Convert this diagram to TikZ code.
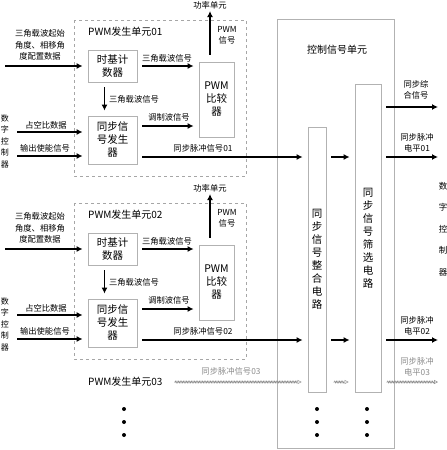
\documentclass[tikz,border=0pt]{standalone}
\usepackage{fontspec}
\setmainfont{Noto Sans CJK SC}
\usetikzlibrary{arrows.meta, calc, decorations.pathmorphing}

\begin{document}
\begin{tikzpicture}[x=1pt, y=-1pt,
    blk/.style={rectangle, draw=black!30, line width=0.8pt, fill=white, inner sep=0pt,
                align=center, font=\fontsize{10.5}{13}\selectfont},
    lbl/.style={align=center, inner sep=0pt, font=\fontsize{8.3}{11.2}\selectfont},
    ttl/.style={anchor=west, inner sep=0pt, font=\fontsize{10}{12}\selectfont},
    unitbox/.style={draw=black!35, dashed, line width=0.7pt},
    arr/.style={-{Latex[length=6pt,width=6pt]}, line width=1.6pt, shorten <=5pt, shorten >=5pt},
    ghost/.style={draw=black!45, line width=0.5pt, -{Triangle[open,length=4pt,width=4pt]},
                  decorate, decoration={zigzag, amplitude=1pt, segment length=1.6pt, pre length=1pt, post length=4pt}}
]
    \useasboundingbox (0,0) rectangle (447,450);

    % Control signal unit
    \node[blk, minimum width=117pt, minimum height=429pt] (ctl) at (335.5,233.5) {};
    \node[ttl, anchor=center] (ctlt) at (337,50) {控制信号单元};
    \node[blk, minimum width=18pt, minimum height=265pt] (intg) at (317,259.5) {同\\步\\信\\号\\整\\合\\电\\路};
    \node[blk, minimum width=26pt, minimum height=308pt] (filt) at (368,238) {同\\步\\信\\号\\筛\\选\\电\\路};
    \coordinate (rgt) at (443,0);
    \coordinate (sy) at (381,107);
    \draw[arr] (sy) -- (sy -| rgt);
    \node[lbl] (syl) at (416,90) {同步综\\合信号};
    \node[lbl, font=\fontsize{8.5}{21.5}\selectfont] (dcr) at (443,229) {数\\字\\控\\制\\器};

    % PWM units 01 and 02
    \foreach \u/\dy in {01/0, 02/183} {
        \draw[unitbox] (74,20+\dy) rectangle (246,176+\dy);
        \node[ttl] (ul\u) at (88,32+\dy) {PWM发生单元\u};
        \node[blk, minimum width=49pt, minimum height=32pt] (tb\u) at (112.5,66+\dy) {时基计\\数器};
        \node[blk, minimum width=49pt, minimum height=48pt] (sg\u) at (112.5,140+\dy) {同步信\\号发生\\器};
        \node[blk, minimum width=35pt, minimum height=75pt] (cmp\u) at (216.5,99.5+\dy) {PWM\\比较\\器};
        \node[lbl] (pw\u) at (210,5+\dy) {功率单元};

        \coordinate (ia\u) at (0,66+\dy);
        \coordinate (du\u) at (12,132+\dy);
        \coordinate (en\u) at (12,156+\dy);
        \coordinate (md\u) at (137,126+\dy);
        \coordinate (sp\u) at (137,157+\dy);

        \draw[arr] (ia\u) -- (ia\u -| tb\u.west);
        \draw[arr] (du\u) -- (du\u -| sg\u.west);
        \draw[arr] (en\u) -- (en\u -| sg\u.west);
        \draw[arr] (tb\u.east) -- (tb\u.east -| cmp\u.west);
        \draw[arr] ([xshift=-8pt]tb\u.south) -- ([xshift=-8pt]sg\u.north);
        \draw[arr] (md\u) -- (md\u -| cmp\u.west);
        \draw[arr, shorten <=7pt, shorten >=2pt] (cmp\u.north -| pw\u.south) -- (pw\u.south);
        \draw[arr] (sp\u) -- (sp\u -| intg.west);
        \draw[arr] (intg.east |- sp\u) -- (filt.west |- sp\u);
        \draw[arr] (filt.east |- sp\u) -- (rgt |- sp\u);

        \node[lbl] (cfg\u) at (40,45+\dy) {三角载波起始\\角度、相移角\\度配置数据};
        \node[lbl] (dul\u) at (46,125+\dy) {占空比数据};
        \node[lbl] (enl\u) at (45,148+\dy) {输出使能信号};
        \node[lbl, font=\fontsize{8}{11.5}\selectfont] (dcl\u) at (5,141+\dy) {数\\字\\控\\制\\器};
        \node[lbl] (tr\u) at (167,58+\dy) {三角载波信号};
        \node[lbl] (tv\u) at (134,99+\dy) {三角载波信号};
        \node[lbl] (mdl\u) at (169,117+\dy) {调制波信号};
        \node[lbl] (spl\u) at (203,148+\dy) {同步脉冲信号\u};
        \node[lbl] (pws\u) at (227,35+\dy) {PWM\\信号};
        \node[lbl] (lv\u) at (417,143+\dy) {同步脉冲\\电平\u};
    }

    % PWM unit 03 (not drawn out)
    \node[ttl] (ul03) at (88,382) {PWM发生单元03};
    \coordinate (g03) at (174,382);
    \draw[ghost] (g03) -- ($(intg.west |- g03)+(-6,0)$);
    \draw[ghost] ($(intg.east |- g03)+(7,0)$) -- ($(filt.west |- g03)+(-6,0)$);
    \draw[ghost] ($(filt.east |- g03)+(5,0)$) -- ($(rgt |- g03)+(-5,0)$);
    \node[lbl, text=black!45] (spl03) at (231,371) {同步脉冲信号03};
    \node[lbl, text=black!45] (lv03) at (417,367) {同步脉冲\\电平03};

    % More units
    \foreach \x in {124,317,367}
        \foreach \y in {409,422,435}
            \fill (\x,\y) circle (2pt);
\end{tikzpicture}
\end{document}
